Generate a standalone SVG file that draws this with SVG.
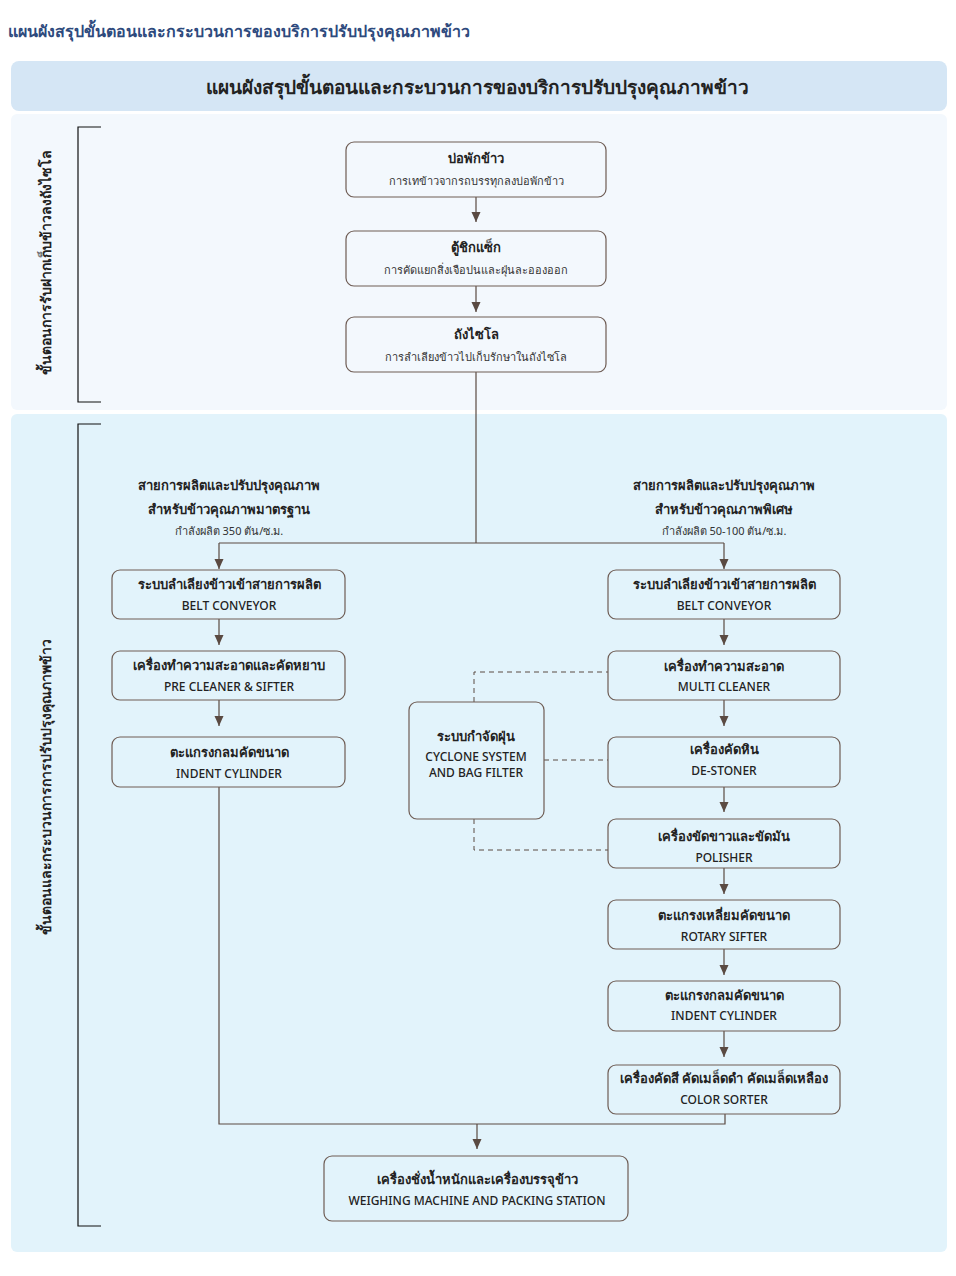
<svg xmlns="http://www.w3.org/2000/svg" width="956" height="1276" viewBox="0 0 956 1276">
<style>
text{font-family:"Noto Sans","DejaVu Sans",sans-serif;fill:#222;text-anchor:middle}
.t{font-size:13px;font-weight:bold}
.s{font-size:11px;fill:#333}
.e{font-size:12px;font-weight:500}
.v{font-size:14px;font-weight:bold}
.box{fill:none;stroke:#6e5c54;stroke-width:1.2}
.ln{fill:none;stroke:#5a4a42;stroke-width:1.2}
.dash{fill:none;stroke:#5a4a42;stroke-width:1;stroke-dasharray:5 4}
.br{fill:none;stroke:#111;stroke-width:1.2}
</style>
<defs>
<marker id="ah" markerUnits="userSpaceOnUse" markerWidth="10" markerHeight="10" viewBox="0 0 10 10" refX="10" refY="5" orient="auto">
<path d="M0,0.5 L10,5 L0,9.5 Z" fill="#5a4a42"/>
</marker>
</defs>
<rect width="956" height="1276" fill="#fff"/>
<text x="8" y="37" style="text-anchor:start;font-size:16px;font-weight:bold;fill:#2e4a7d">แผนผังสรุปขั้นตอนและกระบวนการของบริการปรับปรุงคุณภาพข้าว</text>
<g id="header">
<rect x="11" y="61" width="936" height="50" rx="8" fill="#d5e6f5"/>
<text x="477" y="94" style="font-size:19px;font-weight:bold">แผนผังสรุปขั้นตอนและกระบวนการของบริการปรับปรุงคุณภาพข้าว</text>
</g>
<g id="section1">
<rect x="11" y="114" width="936" height="296" rx="6" fill="#f3f8fd"/>
<path class="br" d="M101,127 H78 V402 H101"/>
<text class="v" transform="translate(51,262) rotate(-90)">ขั้นตอนการรับฝากเก็บข้าวลงถังไซโล</text>
</g>
<g id="section2">
<rect x="11" y="414" width="936" height="838" rx="6" fill="#e2f3fb"/>
<path class="br" d="M101,424 H78 V1226 H101"/>
<text class="v" transform="translate(51,787) rotate(-90)">ขั้นตอนและกระบวนการการปรับปรุงคุณภาพข้าว</text>
</g>
<g id="connectors">
<line class="ln" x1="476" y1="197" x2="476" y2="222" marker-end="url(#ah)"/>
<line class="ln" x1="476" y1="286" x2="476" y2="312" marker-end="url(#ah)"/>
<path class="ln" d="M476,372 V543"/>
<path class="ln" d="M219,543 H724"/>
<line class="ln" x1="219" y1="543" x2="219" y2="569" marker-end="url(#ah)"/>
<line class="ln" x1="724" y1="543" x2="724" y2="569" marker-end="url(#ah)"/>
<line class="ln" x1="219" y1="619" x2="219" y2="645" marker-end="url(#ah)"/>
<line class="ln" x1="219" y1="700" x2="219" y2="726" marker-end="url(#ah)"/>
<line class="ln" x1="724" y1="619" x2="724" y2="645" marker-end="url(#ah)"/>
<line class="ln" x1="724" y1="700" x2="724" y2="726" marker-end="url(#ah)"/>
<line class="ln" x1="724" y1="787" x2="724" y2="812" marker-end="url(#ah)"/>
<line class="ln" x1="724" y1="868" x2="724" y2="894" marker-end="url(#ah)"/>
<line class="ln" x1="724" y1="949" x2="724" y2="975" marker-end="url(#ah)"/>
<line class="ln" x1="724" y1="1031" x2="724" y2="1057" marker-end="url(#ah)"/>
<path class="ln" d="M219,787 V1124 H725 V1114"/>
<line class="ln" x1="477" y1="1124" x2="477" y2="1149" marker-end="url(#ah)"/>
<path class="dash" d="M474,702 V672 H608"/>
<path class="dash" d="M544,760 H608"/>
<path class="dash" d="M474,819 V850 H608"/>
</g>
<g id="n1"><rect class="box" x="346" y="142" width="260" height="55" rx="8"/><text class="t" x="476" y="163">บ่อพักข้าว</text><text class="s" x="476" y="185">การเทข้าวจากรถบรรทุกลงบ่อพักข้าว</text></g>
<g id="n2"><rect class="box" x="346" y="231" width="260" height="55" rx="8"/><text class="t" x="476" y="252">ตู้ชิกแซ็ก</text><text class="s" x="476" y="274">การคัดแยกสิ่งเจือปนและฝุ่นละอองออก</text></g>
<g id="n3"><rect class="box" x="346" y="317" width="260" height="55" rx="8"/><text class="t" x="476" y="339">ถังไซโล</text><text class="s" x="476" y="361">การลำเลียงข้าวไปเก็บรักษาในถังไซโล</text></g>
<g id="lineL">
<text class="t" x="229" y="490">สายการผลิตและปรับปรุงคุณภาพ</text>
<text class="t" x="229" y="514">สำหรับข้าวคุณภาพมาตรฐาน</text>
<text class="s" x="229" y="535">กำลังผลิต 350 ตัน/ซ.ม.</text>
</g>
<g id="lineR">
<text class="t" x="724" y="490">สายการผลิตและปรับปรุงคุณภาพ</text>
<text class="t" x="724" y="514">สำหรับข้าวคุณภาพพิเศษ</text>
<text class="s" x="724" y="535">กำลังผลิต 50-100 ตัน/ซ.ม.</text>
</g>
<g id="L1"><rect class="box" x="112" y="570" width="233" height="49" rx="8"/><text class="t" x="229" y="589">ระบบลำเลียงข้าวเข้าสายการผลิต</text><text class="e" x="229" y="610">BELT CONVEYOR</text></g>
<g id="L2"><rect class="box" x="112" y="651" width="233" height="49" rx="8"/><text class="t" x="229" y="670">เครื่องทำความสะอาดและคัดหยาบ</text><text class="e" x="229" y="691">PRE CLEANER &amp; SIFTER</text></g>
<g id="L3"><rect class="box" x="112" y="737" width="233" height="50" rx="8"/><text class="t" x="229" y="757">ตะแกรงกลมคัดขนาด</text><text class="e" x="229" y="778">INDENT CYLINDER</text></g>
<g id="R1"><rect class="box" x="608" y="570" width="232" height="49" rx="8"/><text class="t" x="724" y="589">ระบบลำเลียงข้าวเข้าสายการผลิต</text><text class="e" x="724" y="610">BELT CONVEYOR</text></g>
<g id="R2"><rect class="box" x="608" y="651" width="232" height="49" rx="8"/><text class="t" x="724" y="671">เครื่องทำความสะอาด</text><text class="e" x="724" y="691">MULTI CLEANER</text></g>
<g id="R3"><rect class="box" x="608" y="737" width="232" height="50" rx="8"/><text class="t" x="724" y="754">เครื่องคัดหิน</text><text class="e" x="724" y="775">DE-STONER</text></g>
<g id="R4"><rect class="box" x="608" y="819" width="232" height="49" rx="8"/><text class="t" x="724" y="841">เครื่องขัดขาวและขัดมัน</text><text class="e" x="724" y="862">POLISHER</text></g>
<g id="R5"><rect class="box" x="608" y="900" width="232" height="49" rx="8"/><text class="t" x="724" y="920">ตะแกรงเหลี่ยมคัดขนาด</text><text class="e" x="724" y="941">ROTARY SIFTER</text></g>
<g id="R6"><rect class="box" x="608" y="981" width="232" height="50" rx="8"/><text class="t" x="724" y="1000">ตะแกรงกลมคัดขนาด</text><text class="e" x="724" y="1020">INDENT CYLINDER</text></g>
<g id="R7"><rect class="box" x="608" y="1065" width="232" height="49" rx="8"/><text class="t" x="724" y="1083">เครื่องคัดสี คัดเมล็ดดำ คัดเมล็ดเหลือง</text><text class="e" x="724" y="1104">COLOR SORTER</text></g>
<g id="cyclone"><rect class="box" x="409" y="702" width="135" height="117" rx="8"/><text class="t" x="476" y="741">ระบบกำจัดฝุ่น</text><text class="e" x="476" y="761">CYCLONE SYSTEM</text><text class="e" x="476" y="777">AND BAG FILTER</text></g>
<g id="final"><rect class="box" x="324" y="1156" width="304" height="65" rx="8"/><text class="t" x="477" y="1184">เครื่องชั่งน้ำหนักและเครื่องบรรจุข้าว</text><text class="e" x="477" y="1205">WEIGHING MACHINE AND PACKING STATION</text></g>
</svg>
